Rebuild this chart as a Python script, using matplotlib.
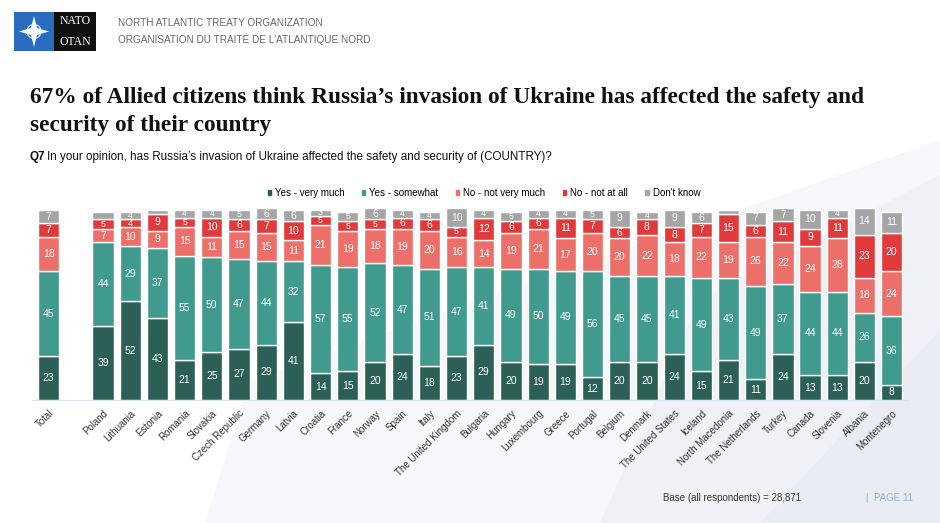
import matplotlib.pyplot as plt
import matplotlib.patches as patches
import numpy as np

# Data
countries = ['Total', 'Poland', 'Lithuania', 'Estonia', 'Romania', 'Slovakia',
             'Czech Republic', 'Germany', 'Latvia', 'Croatia', 'France', 'Norway',
             'Spain', 'Italy', 'The United Kingdom', 'Bulgaria', 'Hungary',
             'Luxembourg', 'Greece', 'Portugal', 'Belgium', 'Denmark',
             'The United States', 'Iceland', 'North Macedonia', 'The Netherlands',
             'Turkey', 'Canada', 'Slovenia', 'Albania', 'Montenegro']
yes_very = [23, 39, 52, 43, 21, 25, 27, 29, 41, 14, 15, 20, 24, 18, 23, 29, 20,
            19, 19, 12, 20, 20, 24, 15, 21, 11, 24, 13, 13, 20, 8]
yes_some = [45, 44, 29, 37, 55, 50, 47, 44, 32, 57, 55, 52, 47, 51, 47, 41, 49,
            50, 49, 56, 45, 45, 41, 49, 43, 49, 37, 44, 44, 26, 36]
no_notvery = [18, 7, 10, 9, 15, 11, 15, 15, 11, 21, 19, 18, 19, 20, 16, 14, 19,
              21, 17, 20, 20, 22, 18, 22, 19, 26, 22, 24, 28, 18, 24]
no_notall = [7, 5, 4, 9, 5, 10, 6, 7, 10, 5, 5, 5, 6, 6, 5, 12, 6,
             6, 11, 7, 6, 8, 8, 7, 15, 6, 11, 9, 11, 23, 20]
dont_know = [7, 4, 4, 2, 4, 4, 5, 6, 6, 3, 5, 6, 4, 4, 10, 4, 5,
             4, 4, 5, 9, 4, 9, 6, 2, 7, 7, 10, 4, 14, 11]
series_names = ['Yes - very much', 'Yes - somewhat', 'No - not very much',
                'No - not at all', "Don't know"]
colors = ['#2c5f56', '#419a8e', '#ec7069', '#e13a3c', '#a5a5a5']
no_label = {('Poland', 4)}

W, H = 940, 523
fig = plt.figure(figsize=(9.4, 5.23), dpi=100)

# background decoration
bg = fig.add_axes([0, 0, 1, 1])
bg.set_xlim(0, W)
bg.set_ylim(H, 0)
bg.axis('off')
bg.add_patch(patches.Polygon([(205, 523), (250, 380), (940, 140), (940, 523)],
                             closed=True, facecolor='#f6f7fa', edgecolor='none'))
bg.add_patch(patches.Polygon([(600, 523), (700, 300), (940, 175), (940, 523)],
                             closed=True, facecolor='#eff1f6', edgecolor='none'))
bg.add_patch(patches.Polygon([(760, 523), (940, 330), (940, 523)],
                             closed=True, facecolor='#e9ecf3', edgecolor='none'))

# NATO logo
bg.add_patch(patches.Rectangle((14, 12), 40, 39, facecolor='#2a6cc0', edgecolor='none'))
bg.add_patch(patches.Rectangle((54, 12), 42, 39, facecolor='#111111', edgecolor='none'))
star = [(34, 16), (37, 28), (49, 31.5), (37, 35), (34, 47), (31, 35), (19, 31.5), (31, 28)]
bg.add_patch(patches.Polygon(star, closed=True, facecolor='white', edgecolor='none'))
bg.add_patch(patches.Circle((34, 31.5), 7, facecolor='none', edgecolor='white', lw=0.8))
bg.text(75, 21, 'NATO', color='white', fontsize=8.5, family='Liberation Serif',
        ha='center', va='center')
bg.text(75, 42, 'OTAN', color='white', fontsize=8.5, family='Liberation Serif',
        ha='center', va='center')
bg.text(118, 23, 'NORTH ATLANTIC TREATY ORGANIZATION', color='#666666',
        fontsize=7.2, family='Liberation Sans', va='center')
bg.text(118, 39, "ORGANISATION DU TRAITÉ DE L'ATLANTIQUE NORD", color='#666666',
        fontsize=7.2, family='Liberation Sans', va='center')

# title and question
bg.text(30, 97, "67% of Allied citizens think Russia’s invasion of Ukraine has affected the safety and",
        fontsize=16.8, family='Liberation Serif', weight='bold', color='#111111', va='center')
bg.text(30, 125, 'security of their country', fontsize=16.8, family='Liberation Serif',
        weight='bold', color='#111111', va='center')
bg.text(30, 157, 'Q7', fontsize=8.4, family='Liberation Sans', weight='bold',
        color='#111111', va='center')
bg.text(47, 157, 'In your opinion, has Russia’s invasion of Ukraine affected the safety and security of (COUNTRY)?',
        fontsize=8.4, family='Liberation Sans', color='#111111', va='center')

# footer
bg.text(663, 498, 'Base (all respondents) = 28,871', fontsize=7, family='Liberation Sans',
        color='#333333', va='center')
bg.text(866, 498, '|  PAGE 11', fontsize=7, family='Liberation Sans',
        color='#8fb3d9', va='center')

# bar chart
ax = fig.add_axes([32.3 / W, 1 - 400 / H, 875.7 / W, 192 / H])
ax.patch.set_alpha(0)
x = np.array([0] + list(range(2, len(countries) + 1)), dtype=float)
data = [yes_very, yes_some, no_notvery, no_notall, dont_know]
bottom = np.zeros(len(countries))
for vals, col, name in zip(data, colors, series_names):
    vals = np.array(vals, dtype=float)
    ax.bar(x, vals, bottom=bottom, width=0.78, color=col, edgecolor='white',
           linewidth=1.0, label=name)
    for xi, b, v, c in zip(x, bottom, vals, countries):
        if v >= 3 and (c, int(v)) not in no_label:
            fs = 7.5 if v > 5 else 6.3
            ax.text(xi, b + v / 2, f'{int(v)}', ha='center', va='center',
                    color='white', fontsize=fs, family='Liberation Sans')
    bottom += vals

ax.set_xlim(-0.6, 31.6)
ax.set_ylim(0, 101)
ax.set_yticks([])
for s in ['top', 'right', 'left']:
    ax.spines[s].set_visible(False)
ax.spines['bottom'].set_color('#d6e4f2')
ax.set_xticks(x)
ax.set_xticklabels(countries, rotation=45, ha='right', rotation_mode='anchor',
                   fontsize=7, family='Liberation Sans', color='#333333')
ax.tick_params(axis='x', length=0, pad=6)

handles = [patches.Rectangle((0, 0), 1, 1, color=c) for c in colors]
fig.legend(handles, series_names, loc='center', bbox_to_anchor=(484 / W, 1 - 193 / H),
           ncol=5, frameon=False, handlelength=0.35, handleheight=0.35,
           handletextpad=0.4, columnspacing=1.8, prop={'family': 'Liberation Sans', 'size': 7})

fig.savefig('out.png', dpi=100)
